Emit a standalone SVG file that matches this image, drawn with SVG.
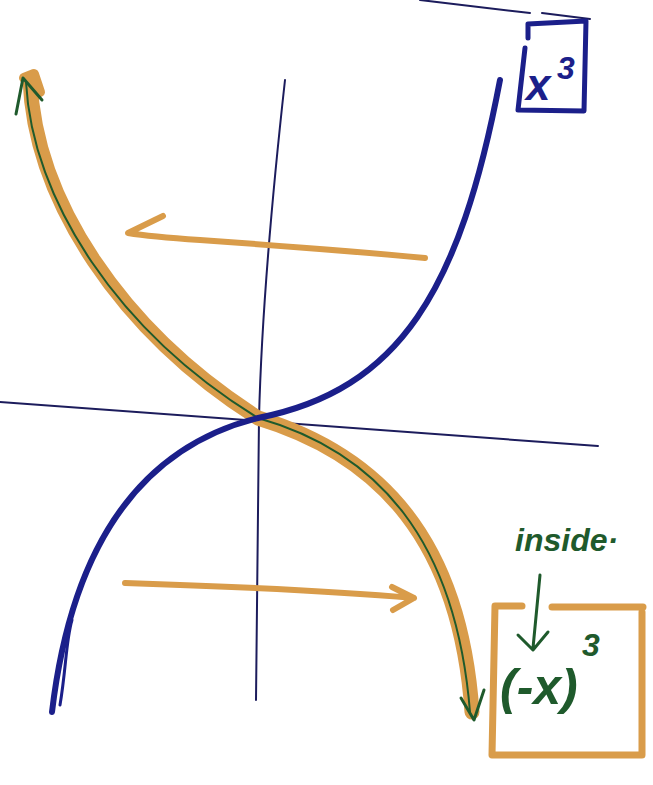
<svg xmlns="http://www.w3.org/2000/svg" width="653" height="785" viewBox="0 0 653 785">
<style>
.axis{fill:none;stroke:#1c1c5c;stroke-width:2;stroke-linecap:round}
.blue{fill:none;stroke:#1b1f8a;stroke-linecap:round;stroke-linejoin:round}
.orange{fill:none;stroke:#d99c4a;stroke-linecap:round;stroke-linejoin:round}
.green{fill:none;stroke:#1f5a2c;stroke-linecap:round;stroke-linejoin:round}
.gtext{fill:#1f5a2c;font-family:"Liberation Sans",sans-serif;font-style:italic;font-weight:bold}
.btext{fill:#1b1f8a;font-family:"Liberation Sans",sans-serif;font-style:italic;font-weight:bold}
</style>
<rect width="653" height="785" fill="#ffffff"/>
<g id="connectors">
  <path class="axis" d="M0,402 L598,446"/>
  <path class="axis" d="M285,80 C275,170 262,300 259,418 C258,520 257,620 256,700"/>
  <path class="orange" stroke-width="15" d="M30,80 C35,200 120,330 258,418 C380,455 460,540 472,712"/>
  <path class="orange" stroke-width="10" d="M24,78 L34,74 L40,92"/>
  <path class="green" stroke-width="2" d="M26,82 C32,200 118,332 258,418 C378,452 456,540 470,712"/>
  <path class="green" stroke-width="3" d="M16,114 L23,78 L42,100"/>
  <path class="green" stroke-width="3" d="M461,698 L474,720 L484,690"/>
  <path class="blue" stroke-width="6" d="M52,712 C70,560 130,450 258,418 C400,390 460,290 500,80"/>
  <path class="blue" stroke-width="3" d="M60,705 C66,670 66,640 72,620"/>
  <path class="orange" stroke-width="6" d="M425,258 C340,250 270,245 200,240 C170,238 140,235 128,233 L163,216"/>
  <path class="orange" stroke-width="6" d="M125,583 C220,586 320,590 414,598 L392,587 M414,598 L393,610"/>
  <path class="axis" d="M420,0 L530,13 M542,13 L590,19"/>
</g>
<g id="box-x3">
  <path class="blue" stroke-width="5" d="M528,24 L586,21 L584,111 L518,110 L525,48 M528,24 L528,38"/>
  <text class="btext" x="526" y="100" font-size="44">x</text>
  <text class="btext" x="557" y="79" font-size="32">3</text>
</g>
<g id="box-neg-x3">
  <path class="orange" stroke-width="7" d="M522,606 L495,606 L492,755 L642,755 L642,612 M552,607 L643,607"/>
  <text class="gtext" x="500" y="704" font-size="50">(-x)</text>
  <text class="gtext" x="582" y="656" font-size="32">3</text>
</g>
<g id="label-inside">
  <text class="gtext" x="515" y="551" font-size="32">inside·</text>
  <path class="green" stroke-width="3" d="M540,575 L533,648 M518,635 L533,650 L548,632"/>
</g>
</svg>
